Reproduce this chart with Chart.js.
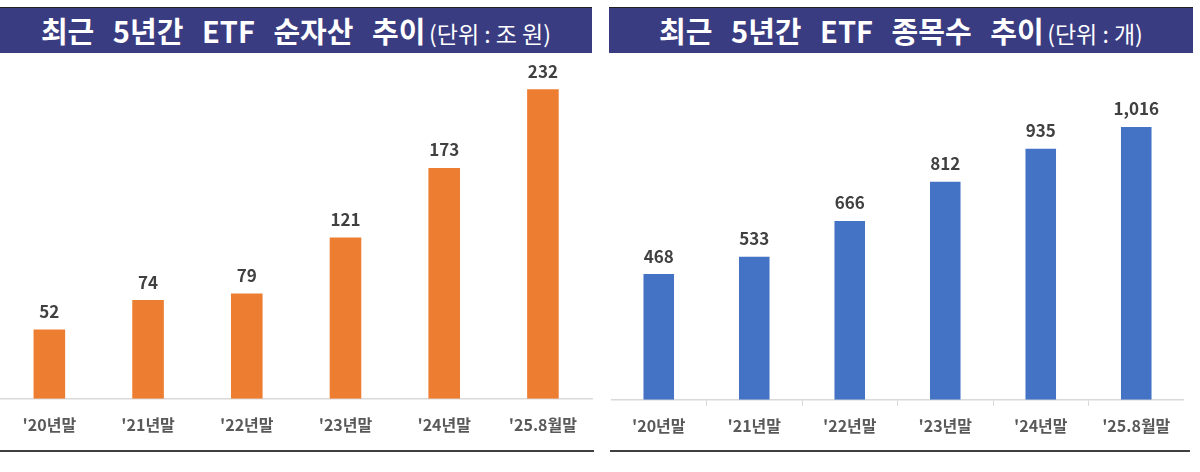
<!DOCTYPE html>
<html>
<head>
<meta charset="utf-8">
<script src="https://cdn.jsdelivr.net/npm/chart.js@4.4.1/dist/chart.umd.min.js"></script>
<style>
    body { margin: 0; width: 1200px; height: 472px; background: #fff; position: relative; overflow: hidden;
           font-family: "Noto Sans CJK KR", sans-serif; }
    .header { position: absolute; top: 7px; height: 45px; background: #3a3c82; border-top: 1px solid #222;
              color: #fff; text-align: center; line-height: 44px; white-space: nowrap; }
    .header .main { font-size: 29px; font-weight: bold; word-spacing: 12px; }
    .header .unit { font-size: 23px; font-weight: normal; }
    .box { position: absolute; top: 60px; height: 400px; }
    .rule { position: absolute; top: 450px; height: 2px; background: #404040; }
</style>
</head>
<body>
<div class="header" style="left:0; width:592px;"><span class="main">최근 5년간 ETF 순자산 추이</span> <span class="unit">(단위 : 조 원)</span></div>
<div class="header" style="left:609px; width:584px;"><span class="main">최근 5년간 ETF 종목수 추이</span> <span class="unit">(단위 : 개)</span></div>
<div class="box" style="left:0; width:594px;"><canvas id="assets-canvas"></canvas></div>
<div class="box" style="left:611px; width:573px;"><canvas id="count-canvas"></canvas></div>
<div class="rule" style="left:0; width:594px;"></div>
<div class="rule" style="left:610px; width:580px;"></div>
<script>
// period labels shared by both charts
const periods = ["'20년말", "'21년말", "'22년말", "'23년말", "'24년말", "'25.8월말"];
// net assets, trillion won
const netAssets = [52, 74, 79, 121, 173, 232];
// number of listed ETFs
const etfCounts = [468, 533, 666, 812, 935, 1016];

const labelFont = '"Noto Sans CJK KR", sans-serif';

// draws the value above each bar
const valueLabels = {
    id: 'valueLabels',
    afterDatasetsDraw(chart) {
        let ctx = chart.ctx;
        let meta = chart.getDatasetMeta(0);
        let values = chart.data.datasets[0].data;
        ctx.save();
        ctx.font = 'bold 17px ' + labelFont;
        ctx.fillStyle = '#404040';
        ctx.textAlign = 'center';
        ctx.textBaseline = 'middle';
        for (var i = 0; i < meta.data.length; i++) {
            let bar = meta.data[i];
            ctx.fillText(values[i].toLocaleString('en-US'), bar.x, bar.y - 18);
        }
        ctx.restore();
    }
};

function makeChart(id, values, color, yMax, showTicks, padBottom) {
    return new Chart(document.getElementById(id), {
        type: 'bar',
        data: {
            labels: periods,
            datasets: [{
                data: values,
                backgroundColor: color,
                barPercentage: 1.0,
                categoryPercentage: 0.32
            }]
        },
        options: {
            responsive: true,
            maintainAspectRatio: false,
            animation: false,
            layout: { padding: { top: 0, bottom: padBottom, left: 0, right: 0 } },
            plugins: { legend: { display: false }, tooltip: { enabled: false } },
            scales: {
                x: {
                    border: { display: true, color: '#d9d9d9', width: 1.5 },
                    grid: {
                        display: showTicks,
                        drawOnChartArea: false,
                        drawTicks: showTicks,
                        tickLength: 6,
                        color: function (c) {
                            return (c.index == 0 || c.index == periods.length) ? 'rgba(0,0,0,0)' : '#d9d9d9';
                        }
                    },
                    ticks: {
                        color: '#595959',
                        padding: showTicks ? 11 : 17,
                        font: { family: labelFont, size: 16, weight: 'bold' }
                    }
                },
                y: { display: false, min: 0, max: yMax }
            }
        },
        plugins: [valueLabels]
    });
}

makeChart('assets-canvas', netAssets, '#ed7d31', 254, false, 8);
makeChart('count-canvas', etfCounts, '#4472c4', 1265, true, 13);
</script>
</body>
</html>
